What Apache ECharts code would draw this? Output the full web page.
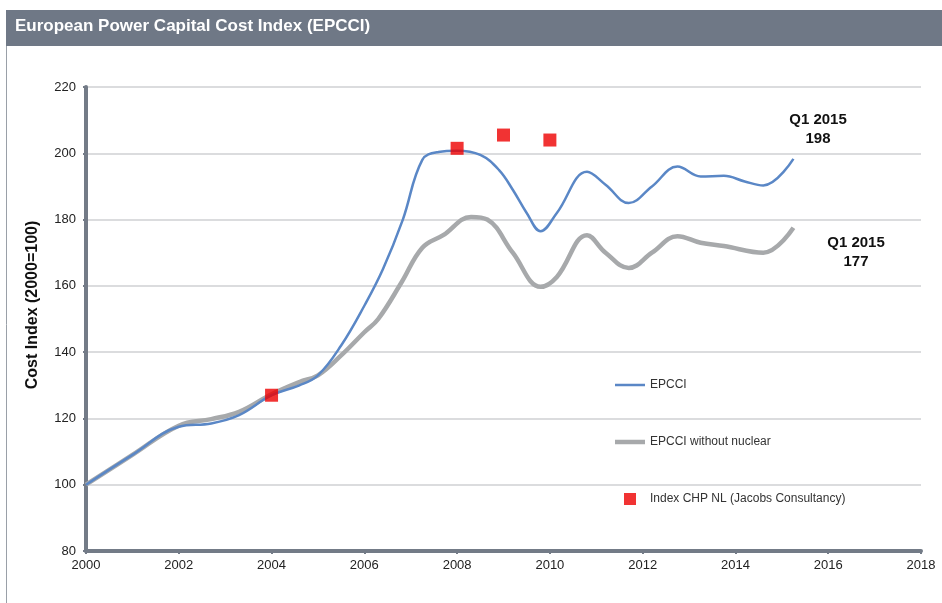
<!DOCTYPE html>
<html>
<head>
<meta charset="utf-8">
<script src="https://cdn.jsdelivr.net/npm/echarts@6/dist/echarts.min.js"></script>
<style>
	html, body { margin: 0; padding: 0; background: #fff; }
	#chart { width: 942px; height: 603px; }
</style>
</head>
<body>
<div id="chart"></div>
<script>
// EPCCI (blue) [year, index]
var epcci = [
	[2000, 100], [2001, 109], [2002, 117.5], [2002.7, 118.5], [2003.3, 121],
	[2004, 127], [2004.6, 130], [2005, 133], [2005.5, 142], [2006, 154],
	[2006.4, 165], [2006.83, 180], [2007.25, 198], [2007.6, 200.4], [2008, 200.8],
	[2008.5, 199.5], [2008.9, 195], [2009.2, 189], [2009.5, 182], [2009.8, 176.5],
	[2010.15, 182], [2010.8, 194.4], [2011.2, 190.5], [2011.7, 185], [2012.2, 190],
	[2012.75, 196], [2013.25, 193], [2013.75, 193.2], [2014.2, 191.5], [2014.6, 190.3],
	[2015.25, 198.3]
]
// EPCCI without nuclear (grey)
var epcciNoNuclear = [
	[2000, 100], [2001, 109], [2002, 117.8], [2002.7, 119.8], [2003.3, 122],
	[2004, 127.3], [2004.6, 131], [2005, 133], [2005.5, 139], [2006, 146],
	[2006.3, 150], [2006.8, 161], [2007.25, 171.5], [2007.7, 175.3], [2008.3, 180.8],
	[2008.65, 180], [2009.2, 170], [2009.8, 159.7], [2010.15, 162.7], [2010.8, 175.3],
	[2011.2, 170], [2011.7, 165.4], [2012.2, 170], [2012.75, 175], [2013.25, 173],
	[2013.75, 172], [2014.6, 170], [2015.25, 177.5]
]
// Index CHP NL (Jacobs Consultancy)
var chpYears = [2004, 2008, 2009, 2010]
var chpValues = [127, 201.5, 205.5, 204]

var seriesNames = ['EPCCI', 'EPCCI without nuclear', 'Index CHP NL (Jacobs Consultancy)']
var endLabels = ['Q1 2015\n198', 'Q1 2015\n177']

var chart = echarts.init(document.getElementById('chart'))

var font = 'Liberation Sans, Arial, sans-serif'

var option = {
	animation: false,
	textStyle: { fontFamily: font },
	grid: { left: 86, right: 21, top: 87, bottom: 52 },
	graphic: [
		// header band
		{ type: 'rect', shape: { x: 6, y: 10, width: 936, height: 36 }, style: { fill: '#6f7886' } },
		{ type: 'line', shape: { x1: 6.5, y1: 46, x2: 6.5, y2: 603 }, style: { stroke: '#9aa0a8', lineWidth: 1 } },
		{ type: 'text', left: 15, top: 18, style: { text: 'European Power Capital Cost Index (EPCCI)', fill: '#fff', font: 'bold 17px ' + font } },
		// y axis title
		{ type: 'text', x: 33, y: 305, rotation: Math.PI / 2, style: { text: 'Cost Index (2000=100)', fill: '#111', align: 'center', verticalAlign: 'middle', font: 'bold 16px ' + font } },
		// end labels
		{ type: 'text', x: 818, y: 110, style: { text: endLabels[0], fill: '#111', align: 'center', font: 'bold 15px ' + font, lineHeight: 19 } },
		{ type: 'text', x: 856, y: 233, style: { text: endLabels[1], fill: '#111', align: 'center', font: 'bold 15px ' + font, lineHeight: 19 } }
	],
	legend: {
		orient: 'vertical',
		left: 610,
		top: 374,
		itemGap: 45,
		itemWidth: 30,
		itemHeight: 12,
		textStyle: { fontSize: 12, color: '#333' },
		data: [
			{ name: seriesNames[0], icon: 'path://M0,0L30,0L30,2.5L0,2.5Z' },
			{ name: seriesNames[1], icon: 'path://M0,0L30,0L30,4.5L0,4.5Z' },
			{ name: seriesNames[2], icon: 'path://M0,0L10,0L10,10L0,10Z' }
		]
	},
	xAxis: {
		type: 'value',
		min: 2000,
		max: 2018,
		interval: 2,
		axisLine: { lineStyle: { color: '#737b87', width: 4 } },
		axisTick: { show: true, length: 3, lineStyle: { color: '#737b87', width: 2 } },
		axisLabel: { color: '#222', fontSize: 13, margin: 8, formatter: function (v) { return String(v) } },
		splitLine: { show: false }
	},
	yAxis: {
		type: 'value',
		min: 80,
		max: 220,
		interval: 20,
		axisLine: { show: true, lineStyle: { color: '#737b87', width: 4 } },
		axisTick: { show: true, length: 3, lineStyle: { color: '#737b87', width: 2 } },
		axisLabel: { color: '#222', fontSize: 13, margin: 10 },
		splitLine: { lineStyle: { color: '#cfd1d3', width: 1.5 } }
	},
	series: [
		{
			name: seriesNames[0],
			type: 'line',
			data: epcci,
			smooth: 0.4,
			symbol: 'none',
			z: 3,
			itemStyle: { color: '#5a87c6' },
			lineStyle: { color: '#5a87c6', width: 2.5 }
		},
		{
			name: seriesNames[1],
			type: 'line',
			data: epcciNoNuclear,
			smooth: 0.4,
			symbol: 'none',
			z: 2,
			itemStyle: { color: '#a7a9ab' },
			lineStyle: { color: '#a7a9ab', width: 4.5 }
		},
		{
			name: seriesNames[2],
			type: 'scatter',
			data: chpYears.map(function (y, i) { return [y, chpValues[i]] }),
			symbol: 'rect',
			symbolSize: 13,
			z: 4,
			itemStyle: { color: '#ee0000' }
		}
	]
}
chart.setOption(option)
</script>
</body>
</html>
